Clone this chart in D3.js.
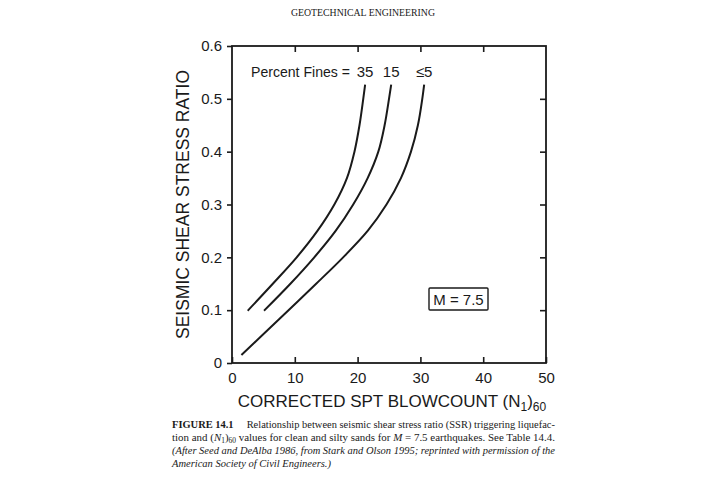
<!DOCTYPE html>
<html>
<head>
<meta charset="utf-8">
<script src="https://cdn.jsdelivr.net/npm/d3@7"></script>
<style>
  body { margin: 0; background: #fff; }
  text { fill: #1a1a1a; }
</style>
</head>
<body>
<div id="chart"></div>
<script>
// values: [N1_60, SSR]
const fines35 = [[2.5, 0.099], [6.5, 0.15], [10.3, 0.2], [13.6, 0.25], [16.3, 0.3], [18.3, 0.35], [19.5, 0.4], [20.3, 0.45], [20.9, 0.5], [21.2, 0.527]];
const fines15 = [[5.1, 0.099], [9.3, 0.15], [13.1, 0.2], [16.5, 0.25], [19.3, 0.3], [21.6, 0.35], [23.3, 0.4], [24.3, 0.45], [25.0, 0.5], [25.35, 0.527]];
const fines5 = [[1.5, 0.015], [4.6, 0.05], [9.0, 0.1], [13.4, 0.15], [17.7, 0.2], [21.6, 0.25], [24.6, 0.3], [26.9, 0.35], [28.5, 0.4], [29.6, 0.45], [30.3, 0.5], [30.6, 0.527]];

const fineLabels = ["35", "15", "\u22645"];
const xTicks = [0, 10, 20, 30, 40, 50];
const yTicks = [0, 0.1, 0.2, 0.3, 0.4, 0.5, 0.6];

const width = 722, height = 484;
const margin = { top: 46, right: 176, bottom: 121, left: 232 };

const svg = d3.select("#chart")
    .append("svg")
    .attr("width", width)
    .attr("height", height);

let x = d3.scaleLinear().domain([0, 50]).range([margin.left, width - margin.right]);
let y = d3.scaleLinear().domain([0, 0.6]).range([height - margin.bottom, margin.top]);

const font = "'Liberation Sans', Arial, sans-serif";
const serif = "'Liberation Serif', 'Times New Roman', serif";

// header
svg.append("text")
    .attr("x", 291).attr("y", 16)
    .attr("textLength", 144).attr("lengthAdjust", "spacingAndGlyphs")
    .style("font-family", serif).style("font-size", "11px")
    .text("GEOTECHNICAL ENGINEERING");

// axes
const axisGroup = svg.append("g").attr("class", "axisGroup");

const styleAxis = g => {
    g.select(".domain").remove();
    g.selectAll("line").attr("stroke", "#1a1a1a").attr("stroke-width", 1.6);
};

axisGroup.append("g")
    .attr("transform", `translate(0, ${y(0)})`)
    .call(d3.axisBottom(x).tickValues(xTicks).tickSize(-6).tickPadding(9).tickFormat(d3.format("d")))
    .call(styleAxis)
    .call(g => g.selectAll("text").style("font-family", font).style("font-size", "15px"));

axisGroup.append("g")
    .attr("transform", `translate(0, ${y(0.6)})`)
    .call(d3.axisTop(x).tickValues(xTicks.slice(1, -1)).tickSize(-6).tickFormat(""))
    .call(styleAxis);

axisGroup.append("g")
    .attr("transform", `translate(${x(0)}, 0)`)
    .call(d3.axisLeft(y).tickValues(yTicks).tickSize(5).tickPadding(5).tickFormat(d => d === 0 ? "0" : d3.format(".1f")(d)))
    .call(styleAxis)
    .call(g => g.selectAll("text").style("font-family", font).style("font-size", "15px"));

axisGroup.append("g")
    .attr("transform", `translate(${x(50)}, 0)`)
    .call(d3.axisRight(y).tickValues(yTicks.slice(1, -1)).tickSize(-6).tickFormat(""))
    .call(styleAxis);

// frame
svg.append("rect")
    .attr("x", x(0)).attr("y", y(0.6))
    .attr("width", x(50) - x(0)).attr("height", y(0) - y(0.6))
    .attr("fill", "none").attr("stroke", "#1a1a1a").attr("stroke-width", 1.8);

// curves
const line = d3.line()
    .x(d => x(d[0]))
    .y(d => y(d[1]))
    .curve(d3.curveMonotoneY);

const curves = [fines35, fines15, fines5];

svg.append("g").selectAll("path")
    .data(curves)
    .join("path")
    .attr("d", line)
    .attr("fill", "none")
    .attr("stroke", "#1a1a1a")
    .attr("stroke-width", 2);

// labels inside plot
svg.append("text")
    .attr("x", 251).attr("y", 77)
    .attr("textLength", 99).attr("lengthAdjust", "spacingAndGlyphs")
    .style("font-family", font).style("font-size", "15px")
    .text("Percent Fines =");

svg.append("g").selectAll("text")
    .data(curves)
    .join("text")
    .attr("x", d => x(d[d.length - 1][0]))
    .attr("y", 77)
    .attr("text-anchor", "middle")
    .style("font-family", font).style("font-size", "15px")
    .text((d, i) => fineLabels[i]);

const mBox = svg.append("g");
mBox.append("rect")
    .attr("x", 429).attr("y", 288).attr("width", 59).attr("height", 22)
    .attr("fill", "#fff").attr("stroke", "#1a1a1a").attr("stroke-width", 1.4).attr("rx", 1);
mBox.append("text")
    .attr("x", 458.5).attr("y", 304.5)
    .attr("text-anchor", "middle")
    .style("font-family", font).style("font-size", "15px")
    .text("M = 7.5");

// axis titles
svg.append("text")
    .attr("transform", `translate(189, ${(y(0) + y(0.6)) / 2}) rotate(-90)`)
    .attr("text-anchor", "middle")
    .style("font-family", font).style("font-size", "17.5px")
    .text("SEISMIC SHEAR STRESS RATIO");

const xTitle = svg.append("text")
    .attr("x", 392).attr("y", 407)
    .attr("text-anchor", "middle")
    .style("font-family", font).style("font-size", "17px");
xTitle.append("tspan").text("CORRECTED SPT BLOWCOUNT (N");
xTitle.append("tspan").attr("dy", 4).style("font-size", "12px").text("1");
xTitle.append("tspan").attr("dy", -4).text(")");
xTitle.append("tspan").attr("dy", 4).style("font-size", "12px").text("60");

// caption
const cap = svg.append("g").style("font-family", serif).style("font-size", "11px");
const capW = 383;

const l1 = cap.append("text").attr("x", 172).attr("y", 428).attr("textLength", capW).attr("lengthAdjust", "spacingAndGlyphs");
l1.append("tspan").style("font-weight", "bold").text("FIGURE 14.1");
l1.append("tspan").text("\u2003 Relationship between seismic shear stress ratio (SSR) triggering liquefac-");

const l2 = cap.append("text").attr("x", 172).attr("y", 441).attr("textLength", capW).attr("lengthAdjust", "spacingAndGlyphs");
l2.append("tspan").text("tion and (");
l2.append("tspan").style("font-style", "italic").text("N");
l2.append("tspan").attr("dy", 1.5).style("font-size", "7.5px").text("1");
l2.append("tspan").attr("dy", -1.5).text(")");
l2.append("tspan").attr("dy", 1.5).style("font-size", "7.5px").text("60");
l2.append("tspan").attr("dy", -1.5).text(" values for clean and silty sands for ");
l2.append("tspan").style("font-style", "italic").text("M");
l2.append("tspan").text(" = 7.5 earthquakes. See Table 14.4.");

cap.append("text").attr("x", 172).attr("y", 454).attr("textLength", capW).attr("lengthAdjust", "spacingAndGlyphs")
    .style("font-style", "italic")
    .text("(After Seed and DeAlba 1986, from Stark and Olson 1995; reprinted with permission of the");

cap.append("text").attr("x", 172).attr("y", 467).attr("textLength", 159).attr("lengthAdjust", "spacingAndGlyphs")
    .style("font-style", "italic")
    .text("American Society of Civil Engineers.)");
</script>
</body>
</html>
